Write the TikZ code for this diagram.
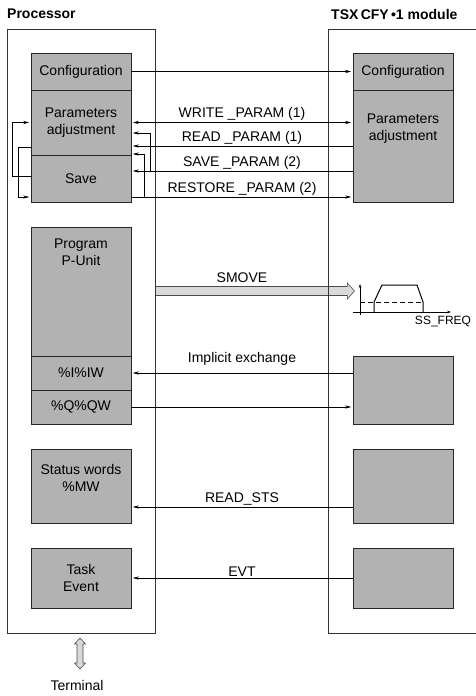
\documentclass[tikz,border=0pt]{standalone}
\usepackage{fontspec}
\setmainfont{Liberation Sans}
\usetikzlibrary{arrows.meta,backgrounds}

\begin{document}
\begin{tikzpicture}[
  x=1pt, y=-1pt,
  every node/.style={font=\fontsize{14}{17}\selectfont},
  frame/.style={draw=black!80, line width=0.8pt, minimum width=148pt, minimum height=604pt, inner sep=0},
  blk/.style={draw=black!85, fill=black!30, line width=0.7pt, minimum width=100pt, inner sep=0, align=center},
  ttl/.style={font=\fontsize{14}{17}\selectfont\bfseries, anchor=west, inner sep=0},
  toptxt/.style={anchor=north, align=center, inner sep=0},
  lbl/.style={above, inner sep=1.5pt},
  edg/.style={-{Stealth[length=6pt,width=3.2pt]}, line width=0.6pt, shorten >=1.5pt},
  edgb/.style={{Stealth[length=6pt,width=3.2pt]}-{Stealth[length=6pt,width=3.2pt]}, line width=0.6pt, shorten >=1.5pt, shorten <=1.5pt},
  axis/.style={-{Stealth[length=4pt,width=2.5pt]}, line width=0.5pt},
  bigarr/.style={draw=black!70, fill=black!15, line width=0.6pt}
]
\useasboundingbox (0,0) rectangle (476,696);

\node[ttl] (tproc) at (7,14) {Processor};
\node[ttl] (tmod) at (331,14) {TSX\,CFY\,•1 module};

\node[frame] (proc) at (81,331) {};
\node[frame, minimum width=160pt] (mod) at (408,331) {};

% processor side
\node[blk, minimum height=37pt] (pcfg) at (81,71.5) {Configuration};
\node[blk, minimum height=65pt] (ppar) at (81,122.5) {Parameters\\adjustment};
\node[blk, minimum height=47pt] (psave) at (81,178.5) {Save};
\node[blk, minimum height=129pt] (pprog) at (81,291.5) {};
\node[toptxt] (tprog) at ([yshift=-12pt]pprog.north) {Program\\P-Unit};
\node[blk, minimum height=34pt] (pin) at (81,373) {\%I\%IW};
\node[blk, minimum height=34pt] (pout) at (81,407) {\%Q\%QW};
\node[blk, minimum height=74pt] (psts) at (81,486) {};
\node[toptxt] (tsts) at ([yshift=-15pt]psts.north) {Status words\\\%MW};
\node[blk, minimum height=60pt] (ptask) at (81,578) {Task\\Event};

% module side
\node[blk, minimum height=37pt] (mcfg) at (403,71.5) {Configuration};
\node[blk, minimum height=112pt] (mpar) at (403,146) {};
\node[toptxt] (tpar) at ([yshift=-24pt]mpar.north) {Parameters\\adjustment};
\node[blk, minimum height=68pt] (mio) at (403,390) {};
\node[blk, minimum height=74pt] (msts) at (403,486) {};
\node[blk, minimum height=60pt] (mtask) at (403,578) {};

\draw[edg] (pcfg) -- (mcfg);
\draw[edgb] (ppar.east) -- (mpar.west |- ppar.east) node[lbl, midway] {WRITE \_PARAM (1)};
\draw[edg] (mpar.west) -- (ppar.east |- mpar.west) node[lbl, midway] {READ \_PARAM (1)};
\draw[edg] ([yshift=-25pt]mpar.west) -- ([yshift=7.5pt]psave.east) node[lbl, midway] {SAVE \_PARAM (2)};
\draw[edg] ([xshift=19pt,yshift=7.5pt]psave.east) |- ([yshift=-10.5pt]ppar.east);
\draw[edg] ([yshift=-18.5pt]psave.east) -- ([yshift=-51pt]mpar.west) node[lbl, midway] {RESTORE \_PARAM (2)};
\draw[edg] ([xshift=13pt,yshift=-18.5pt]psave.east) |- ([yshift=-31.5pt]ppar.east);

% loops on the left
\draw[edg] ([yshift=2.5pt]psave.west) -- ++(-18pt,0pt) |- (ppar.west);
\draw[edg] ([yshift=-24.5pt]ppar.west) -- ++(-12pt,0pt) |- ([yshift=-18.5pt]psave.west);

% SMOVE
\begin{scope}[on background layer]
\draw[bigarr] ([yshift=40pt]proc.east) ++(0pt,4.5pt) -- ++(192pt,0pt) -- ++(0pt,3.5pt) -- ++(7pt,-8pt)
  -- ++(-7pt,-8pt) -- ++(0pt,3.5pt) -- ++(-192pt,0pt) -- cycle;
\end{scope}
\node (tsmove) at (242,278) {SMOVE};

\draw[axis] (360,315) -- (360,284);
\draw[axis] (353,312) -- (451,312);
\draw[line width=1pt] (374,312) -- (374,302) -- (382,285) -- (417,285) -- (423,302) -- (423,312);
\draw[line width=0.6pt, dash pattern=on 5pt off 3pt] (360,302) -- (423,302);
\node[font=\fontsize{12}{14}\selectfont] (tfreq) at (443,321) {SS\_FREQ};

\draw[edg] (mio.west |- pin.east) -- (pin.east) node[lbl, midway, yshift=6pt] {Implicit exchange};
\draw[edg] (pout.east) -- (mio.west |- pout.east);
\draw[edg] ([yshift=-21pt]msts.west) -- ([yshift=-21pt]psts.east) node[lbl, midway] {READ\_STS};
\draw[edg] (mtask) -- (ptask) node[lbl, midway] {EVT};

% terminal
\draw[bigarr] (80,638) -- (85.5,644) -- (83,644) -- (83,663) -- (85.5,663) -- (80,669)
  -- (74.5,663) -- (77,663) -- (77,644) -- (74.5,644) -- cycle;
\node (term) at (77,685) {Terminal};

\end{tikzpicture}
\end{document}
